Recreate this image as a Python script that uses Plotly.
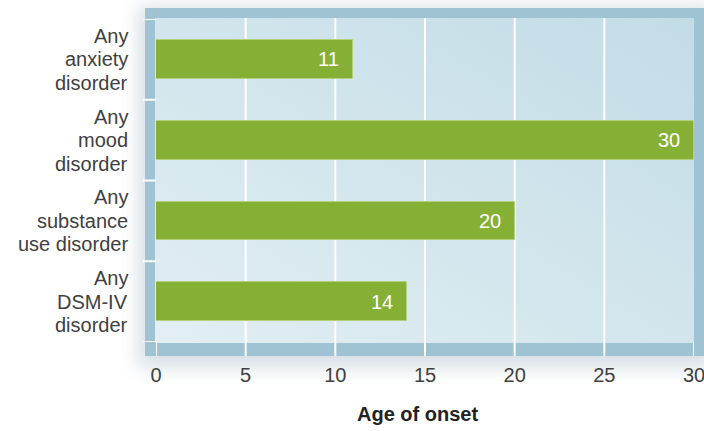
import base64
import plotly.graph_objects as go

# Median age of onset by disorder class
categories = ["Any anxiety disorder", "Any mood disorder",
              "Any substance use disorder", "Any DSM-IV disorder"]
label_lines = [["Any", "anxiety", "disorder"],
               ["Any", "mood", "disorder"],
               ["Any", "substance", "use disorder"],
               ["Any", "DSM-IV", "disorder"]]
onset_age = [11, 30, 20, 14]
x_ticks = [0, 5, 10, 15, 20, 25, 30]
x_title = "Age of onset"

W, H = 704, 431
L, R, T, B = 156, 10, 19, 89
PW, PH = W - L - R, H - T - B

BAR = "#85AF35"
FRAME = "#A0C3D4"
TXT = "#404040"
FONT = "Liberation Sans, Arial, sans-serif"


def px_x(px):
    return (px - L) / PW


def px_y(py):
    return (H - B - py) / PH


# Panel decoration: soft shadow, blue frame and gradient backdrop
svg = f"""<svg xmlns="http://www.w3.org/2000/svg" width="{W}" height="{H}" viewBox="0 0 {W} {H}" preserveAspectRatio="none">
<defs>
<filter id="s" x="-20%" y="-20%" width="140%" height="140%"><feGaussianBlur stdDeviation="9"/></filter>
<linearGradient id="g" x1="0" y1="1" x2="1" y2="0">
<stop offset="0" stop-color="#E2EEF3"/><stop offset="1" stop-color="#C2DCE6"/></linearGradient>
</defs>
<rect x="138" y="6" width="576" height="362" fill="#A9BCC8" opacity="0.45" filter="url(#s)"/>
<rect x="145" y="8" width="{W - 145}" height="348" fill="{FRAME}"/>
<rect x="155" y="18" width="539" height="325" fill="url(#g)"/>
</svg>"""
svg_uri = "data:image/svg+xml;base64," + base64.b64encode(svg.encode()).decode()

ypos = list(range(len(categories)))

fig = go.Figure()
fig.add_trace(go.Bar(
    x=onset_age, y=ypos, orientation="h", width=0.48,
    marker=dict(color=BAR, line=dict(color="#B2D07E", width=1)),
    hovertext=categories, hoverinfo="text+x",
))

shapes = []
frame_bottom = px_y(356)
for v in x_ticks:
    top = px_y(18) if 0 < v < 30 else 0
    shapes.append(dict(type="line", xref="x", yref="paper", x0=v, x1=v,
                       y0=frame_bottom, y1=top, layer="below",
                       line=dict(color="white", width=2)))
for k in range(len(categories) + 1):
    yb = k - 0.5
    shapes.append(dict(type="line", xref="paper", yref="y", x0=px_x(143), x1=px_x(156),
                       y0=yb, y1=yb, layer="below", line=dict(color="white", width=2)))

annotations = []
for i, v in enumerate(onset_age):
    annotations.append(dict(x=v, y=i, xref="x", yref="y", text=str(v), showarrow=False,
                            xanchor="right", yanchor="middle", xshift=-12,
                            font=dict(family=FONT, size=20, color="white")))
LINE_H = 23.5
for i, lines in enumerate(label_lines):
    mid = (len(lines) - 1) / 2
    for j, line in enumerate(lines):
        annotations.append(dict(x=0, y=i, xref="paper", yref="y", text=line, showarrow=False,
                                xanchor="right", yanchor="middle", xshift=-26,
                                yshift=(mid - j) * LINE_H,
                                font=dict(family=FONT, size=20, color=TXT)))
annotations.append(dict(x=px_x(417.5), y=px_y(414), xref="paper", yref="paper", text=f"<b>{x_title}</b>",
                        showarrow=False, xanchor="center", yanchor="middle",
                        font=dict(family=FONT, size=20, color="#222222")))

fig.update_layout(
    width=W, height=H,
    margin=dict(l=L, r=R, t=T, b=B, pad=0, autoexpand=False),
    paper_bgcolor="white", plot_bgcolor="rgba(0,0,0,0)",
    showlegend=False, bargap=0,
    font=dict(family=FONT, color=TXT),
    images=[dict(source=svg_uri, xref="paper", yref="paper", x=px_x(0), y=px_y(0),
                 sizex=W / PW, sizey=H / PH, sizing="stretch", xanchor="left",
                 yanchor="top", layer="below")],
    shapes=shapes,
    annotations=annotations,
    xaxis=dict(range=[0, 30], tickvals=x_ticks, ticks="", showgrid=False, zeroline=False,
               showline=False, tickfont=dict(family=FONT, size=20, color=TXT),
               ticklabelstandoff=19, ticklabeloverflow="allow", automargin=False),
    yaxis=dict(range=[3.5, -0.5], showticklabels=False, showgrid=False, zeroline=False,
               showline=False, ticks="", automargin=False),
)

fig.write_html("out.html")
